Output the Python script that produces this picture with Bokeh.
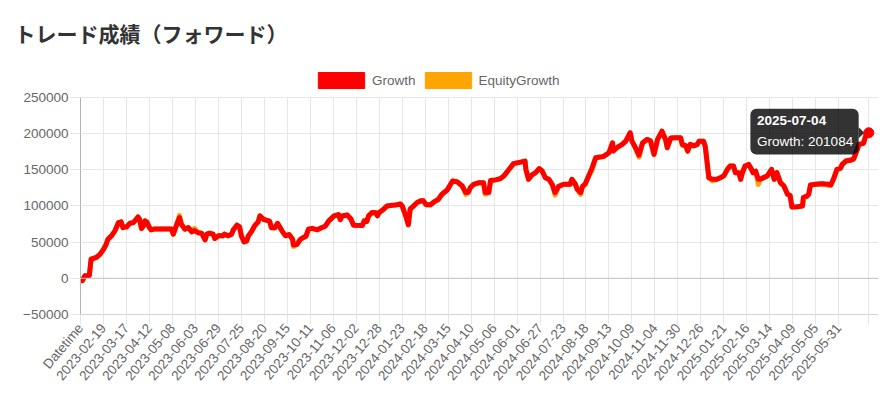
import math
from bokeh.plotting import figure
from bokeh.models import (Range1d, FixedTicker, Legend, LegendItem, Label, Title,
                          BoxAnnotation, Span, BasicTickFormatter)
from bokeh.core.properties import value
from bokeh.embed import file_html
from bokeh.resources import INLINE

# ---------------- data ----------------
title_text = "トレード成績（フォワード）"
tick_labels = ["Datetime", "2023-02-19", "2023-03-17", "2023-04-12", "2023-05-08",
               "2023-06-03", "2023-06-29", "2023-07-25", "2023-08-20", "2023-09-15",
               "2023-10-11", "2023-11-06", "2023-12-02", "2023-12-28", "2024-01-23",
               "2024-02-18", "2024-03-15", "2024-04-10", "2024-05-06", "2024-06-01",
               "2024-06-27", "2024-07-23", "2024-08-18", "2024-09-13", "2024-10-09",
               "2024-11-04", "2024-11-30", "2024-12-26", "2025-01-21", "2025-02-16",
               "2025-03-14", "2025-04-09", "2025-05-05", "2025-05-31"]
tick_step = 26
last_date = "2025-07-04"

# category index (days since 2023-01-24) of each sampled point
days = [1, 2, 5, 10, 12, 18, 22, 26, 29, 31, 35, 39, 43, 46, 48, 52, 56, 60, 63, 65,
        67, 69, 71, 73, 75, 78, 80, 83, 86, 103, 105, 107, 110, 112, 114, 118, 122, 126,
        129, 133, 137, 141, 143, 146, 150, 152, 156, 161, 163, 167, 171, 173, 177, 180,
        182, 185, 188, 190, 194, 197, 201, 203, 207, 210, 214, 216, 220, 223, 225, 228,
        232, 236, 240, 241, 245, 249, 255, 258, 262, 268, 272, 277, 281, 287, 292, 294,
        296, 302, 306, 309, 319, 321, 324, 326, 330, 334, 336, 338, 343, 347, 353, 358,
        362, 364, 368, 371, 373, 377, 381, 385, 388, 391, 396, 400, 405, 409, 415, 421,
        426, 432, 436, 439, 441, 445, 451, 456, 458, 462, 464, 470, 475, 479, 485, 490,
        498, 503, 504, 507, 511, 515, 519, 522, 526, 530, 534, 537, 541, 547, 554, 556,
        560, 562, 566, 568, 571, 575, 579, 583, 588, 592, 598, 602, 603, 607, 613, 617,
        622, 624, 628, 632, 636, 641, 645, 649, 653, 658, 662, 664, 668, 673, 679, 681,
        685, 687, 690, 694, 698, 700, 705, 707, 711, 715, 720, 724, 728, 732, 735, 739,
        741, 745, 747, 749, 752, 756, 758, 761, 764, 767, 769, 773, 777, 782, 785, 788,
        792, 796, 800, 803, 805, 811, 817, 818, 822, 824, 826, 832, 839, 847, 849, 852,
        856, 860, 862, 866, 871, 875, 879, 881, 886, 889, 892]

growth = [0, -3000, 3600, 4000, 26600, 28900, 33000, 40000, 47000, 54000, 58700, 65600,
          77000, 78000, 70000, 71000, 76000, 77000, 81700, 84800, 81000, 68900, 72000,
          79300, 78000, 70000, 67000, 68000, 68000, 68000, 61000, 68000, 78000, 84000,
          75000, 68000, 70000, 64200, 66000, 63000, 62400, 53200, 61000, 62400, 61000,
          55000, 58700, 58700, 61000, 58700, 61000, 67000, 73400, 71000, 58700, 50400,
          51500, 58700, 65600, 72500, 78000, 86300, 81500, 80300, 79000, 70000, 70000,
          76000, 72000, 65600, 58700, 60500, 54100, 46000, 47000, 54100, 58000, 67900,
          69000, 67000, 69500, 72000, 79400, 86300, 88000, 81000, 86000, 87400, 82000,
          73400, 73000, 79400, 78500, 86300, 90900, 90500, 86300, 90900, 95500, 100000,
          100800, 101700, 102600, 100000, 86300, 74000, 95500, 100000, 104700, 107000,
          107000, 101700, 101700, 105500, 109200, 116100, 122000, 134400, 133500, 127500,
          118400, 119000, 125000, 129900, 132200, 132200, 118400, 118400, 135000, 136000,
          137700, 141300, 150600, 158400, 160600, 161900, 150600, 136800, 143000, 146000,
          151500, 149000, 139000, 136800, 129000, 118400, 127000, 129900, 129900, 136800,
          130000, 123000, 118400, 127000, 129900, 141300, 152900, 166700, 167500, 168500,
          173500, 187300, 176000, 180400, 185000, 189500, 201100, 189500, 180400, 170300,
          187000, 191900, 190000, 171200, 191900, 203300, 191900, 180400, 194000, 194200,
          194200, 185000, 183000, 175800, 185000, 183000, 185000, 189500, 189500, 182000,
          139100, 136800, 136800, 139000, 141500, 150600, 155100, 155100, 146000, 146000,
          136800, 146000, 155100, 157400, 153500, 146000, 148000, 137000, 136800, 139100,
          141300, 150600, 136800, 146000, 132200, 127500, 116100, 114500, 98600, 99000,
          100000, 111500, 113500, 116000, 129000, 129900, 130800, 129900, 129000, 136800,
          150600, 152000, 157400, 162000, 163000, 165000, 178100, 185000, 186500, 198800,
          201084]

equity = [0, -4000, 3600, 4000, 26600, 28900, 33000, 40000, 47000, 54000, 58700, 65600,
          77000, 78000, 70000, 71000, 76000, 77000, 81700, 84800, 81000, 68900, 72000,
          79300, 78000, 70000, 67000, 68000, 68000, 68000, 61000, 68000, 78000, 87000,
          75000, 68000, 70000, 64200, 69000, 63000, 62400, 53200, 61000, 62400, 61000,
          55000, 58700, 58700, 61000, 58700, 61000, 67000, 73400, 71000, 58700, 50400,
          51500, 58700, 65600, 72500, 78000, 86300, 81500, 80300, 79000, 70000, 70000,
          76000, 72000, 65600, 58700, 60500, 54100, 44000, 47000, 54100, 58000, 67900,
          69000, 67000, 69500, 72000, 79400, 86300, 88000, 81000, 86000, 87400, 82000,
          73400, 73000, 79400, 78500, 86300, 90900, 90500, 86300, 90900, 95500, 100000,
          100800, 101700, 102600, 100000, 86300, 74000, 95500, 100000, 104700, 107000,
          107000, 101700, 101700, 105500, 109200, 116100, 122000, 134400, 133500, 127500,
          116000, 119000, 125000, 129900, 132200, 132200, 116000, 118400, 135000, 136000,
          137700, 141300, 150600, 158400, 160600, 161900, 150600, 136800, 143000, 146000,
          151500, 149000, 139000, 136800, 129000, 115000, 127000, 129900, 129900, 136800,
          130000, 123000, 116000, 127000, 129900, 141300, 150000, 166700, 167500, 168500,
          173500, 187300, 176000, 180400, 185000, 189500, 201100, 189500, 180400, 167500,
          187000, 191900, 190000, 171200, 191900, 203300, 191900, 180400, 194000, 194200,
          194200, 183500, 183000, 175800, 185000, 183000, 185000, 189500, 189500, 182000,
          139100, 134500, 136800, 139000, 141500, 150600, 155100, 155100, 146000, 146000,
          136800, 146000, 155100, 157400, 153500, 146000, 148000, 129500, 136800, 139100,
          141300, 150600, 136800, 146000, 132200, 127500, 116100, 114500, 98600, 99000,
          100000, 111500, 113500, 116000, 129000, 129900, 130800, 128000, 129000, 136800,
          150600, 152000, 157400, 162000, 163000, 165000, 178100, 185000, 186500, 198800,
          201084]

y_ticks = [-50000, 0, 50000, 100000, 150000, 200000, 250000]

# ---------------- layout ----------------
W, H = 883, 391
BL, BR, BT, BB = 80, 5, 62, 77
frame_w = W - BL - BR
frame_h = H - BT - BB
AXIS_H = 218                      # pixel height of the -50000..250000 axis span
X0, X1 = 0, 903
Y0, YTOP = y_ticks[0], y_ticks[-1]
Y1 = Y0 + frame_h * (YTOP - Y0) / AXIS_H   # frame extends above the axis (legend room)
dx = (X1 - X0) / frame_w   # data units per pixel
dy = (Y1 - Y0) / frame_h

FONT = "Liberation Sans"
GRID = "#e6e6e6"

p = figure(width=W, height=H, x_range=Range1d(X0, X1), y_range=Range1d(Y0, Y1),
           output_backend="svg", toolbar_location=None,
           min_border_left=BL, min_border_right=BR, min_border_top=BT, min_border_bottom=BB)
p.outline_line_color = None
p.background_fill_color = "white"
p.border_fill_color = "white"

# x axis (category index with labels every 26 days)
x_ticks = [i * tick_step for i in range(len(tick_labels))] + [days[-1]]
overrides = {i * tick_step: lab for i, lab in enumerate(tick_labels)}
overrides[days[-1]] = ""
xt = FixedTicker(ticks=x_ticks, minor_ticks=[])
xa = p.xaxis[0]
xa.ticker = xt
xa.major_label_overrides = overrides
xa.major_label_orientation = math.radians(50)
xa.major_label_text_font = FONT
xa.major_label_text_font_size = "13.5px"
xa.major_label_text_color = "#666666"
xa.major_tick_out = 10
xa.major_tick_in = 0
xa.major_tick_line_color = GRID
xa.minor_tick_line_color = None
xa.axis_line_color = "#d4d4d4"
xa.major_label_standoff = 1
xa.axis_label_standoff = 0

ya = p.yaxis[0]
ya.ticker = FixedTicker(ticks=y_ticks, minor_ticks=[])
ya.bounds = (Y0, YTOP)
ya.formatter = BasicTickFormatter(use_scientific=False)
ya.major_label_text_font = FONT
ya.major_label_text_font_size = "13.5px"
ya.major_label_text_color = "#666666"
ya.major_tick_out = 10
ya.major_tick_in = 0
ya.major_tick_line_color = GRID
ya.minor_tick_line_color = None
ya.axis_line_color = "#b3b3b3"
ya.major_label_standoff = 2

p.xgrid.ticker = xt
p.xgrid.grid_line_color = GRID
try:
    p.xgrid.cross_bounds = (Y0, YTOP)
except Exception:
    pass
p.ygrid.ticker = FixedTicker(ticks=y_ticks)
p.ygrid.grid_line_color = GRID
p.add_layout(Span(location=0, dimension="width", line_color="#c4c4c4", line_width=1))

# series
p.line(days, equity, line_color="#FFA500", line_width=5, line_join="round")
p.line(days, growth, line_color="#FF0000", line_width=5, line_join="round")

# legend (box swatches) in the top strip of the frame; swatch glyphs have no
# drawable geometry (NaN), they only provide the legend colours
nan = float("nan")
r_g = p.quad(left=[nan], right=[nan], top=[nan], bottom=[nan],
             fill_color="#FF0000", line_color="#FF0000")
r_e = p.quad(left=[nan], right=[nan], top=[nan], bottom=[nan],
             fill_color="#FFA500", line_color="#FFA500")
legend = Legend(items=[LegendItem(label=value("Growth"), renderers=[r_g], index=0),
                       LegendItem(label=value("EquityGrowth"), renderers=[r_e], index=0)],
                orientation="horizontal", location=(232, frame_h - 28),
                glyph_width=58, glyph_height=20, label_height=20,
                label_standoff=2, spacing=3, padding=0, margin=0,
                border_line_color=None, background_fill_alpha=0,
                label_text_font=FONT, label_text_font_size="13.5px",
                label_text_color="#666666")
p.add_layout(legend)

title = Title(text=title_text, align="left", offset=-66, standoff=31,
              text_font="Noto Sans CJK JP", text_font_size="21px",
              text_font_style="bold", text_color="#333333")
p.add_layout(title, "above")

# hovered point + tooltip
lx, ly = days[-1], growth[-1]
p.add_layout(BoxAnnotation(left=lx - 118.4 * dx, right=lx - 10.1 * dx,
                           top=ly + 24 * dy, bottom=ly - 21.7 * dy,
                           fill_color="black", fill_alpha=0.8, line_alpha=0,
                           border_radius=6))
p.patch([lx - 10.1 * dx, lx - 4.4 * dx, lx - 10.1 * dx],
        [ly + 5.6 * dy, ly, ly - 5.6 * dy], fill_color="black", fill_alpha=0.8, line_alpha=0)
p.scatter([lx], [ly], size=10, fill_color="#FF0000", line_color="#FF0000")
p.add_layout(Label(x=lx, y=ly, x_offset=-111.7, y_offset=12.3, text=last_date,
                   text_font=FONT, text_font_size="13.5px", text_font_style="bold",
                   text_color="white", text_baseline="middle"))
p.add_layout(Label(x=lx, y=ly, x_offset=-111.7, y_offset=-8.7,
                   text="Growth: " + str(growth[-1]),
                   text_font=FONT, text_font_size="13.5px",
                   text_color="white", text_baseline="middle"))

open("out.html", "w").write(file_html(p, INLINE))
